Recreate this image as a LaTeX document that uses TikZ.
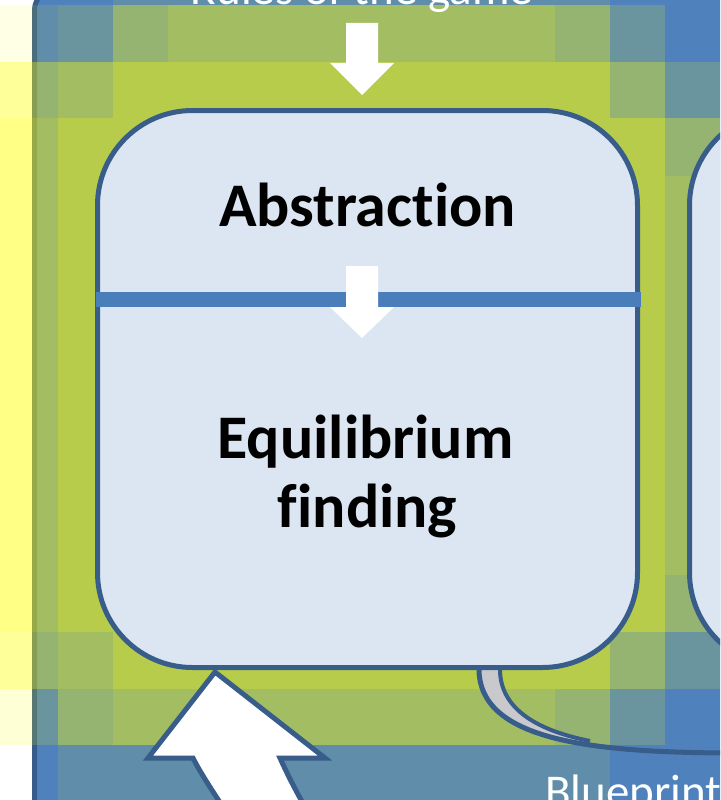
\documentclass[tikz,border=0pt]{standalone}
\usepackage{fontspec}
\setmainfont{Carlito}[Ligatures=NoCommon]
\definecolor{fond}{HTML}{4F81BD}
\definecolor{bord}{HTML}{385D8A}
\definecolor{clair}{HTML}{DCE6F2}
\definecolor{barre}{HTML}{4A7EBB}
\definecolor{halo}{RGB}{255,255,0}
\definecolor{queue}{HTML}{C8C8CD}
\tikzset{
  boite/.style={draw=bord, fill=clair, line width=5pt, rounded corners=95pt,
    minimum width=540pt, minimum height=557pt, inner sep=0pt},
  titre/.style={font=\bfseries\fontsize{62}{69}\selectfont, inner sep=0pt, anchor=base},
  legende/.style={font=\fontsize{47}{56}\selectfont, text=white, inner sep=0pt},
  fleche/.style={fill=white},
}

\begin{document}
\begin{tikzpicture}[x=1pt,y=-1pt]
    % cadre
    \useasboundingbox (0,0) rectangle (720,800);
    \clip (0,0) rectangle (720,800);
    \fill[white] (0,0) rectangle (720,800);
    \draw[bord, fill=fond, line width=5pt, rounded corners=20pt] (34.5,-10) rectangle (780,850);
    % halo jaune (par blocs)
    \def\colx{{0,32,58,113,168,555,610,665,720}}
    \foreach \ya/\yb/\niv in {0/5/{0,0,0,1,1,1,0,0}, 5/62/{1,1,2,3,4,3,2,0},
        62/118/{3,3,4,5,5,5,3,2}, 118/176/{4,4,5,5,5,5,5,3}, 176/575/{4,4,5,5,5,5,5,4},
        575/632/{4,4,5,5,5,5,5,3}, 632/689/{3,3,4,5,5,5,3,2}, 689/745/{2,2,3,4,4,3,2,0},
        745/800/{0,0,1,1,1,1,0,0}}{
      \foreach \l [count=\i from 0] in \niv {
        \pgfmathsetmacro\xa{\colx[\i]}
        \pgfmathsetmacro\xb{\colx[\i+1]}
        \pgfmathsetmacro\op{{0,0.1,0.16,0.4,0.48,0.6}[\l]}
        \fill[halo, opacity=\op] (\xa,\ya) rectangle (\xb,\yb);
      }
    }
    % texte du haut et flèche
    \node[legende, anchor=base] (regles) at (362,5) {Rules of the game};
    \fill[fleche] (346,23) -- (378,23) -- (378,63) -- (394,63) -- (362,95) -- (330,63) -- (346,63) -- cycle;
    % queue grise
    \fill[queue] (479,668) .. controls (478,718) and (530,738) .. (590,745) -- (590,741)
      .. controls (550,733) and (499,715) .. (500,668) -- cycle;
    \draw[bord, line width=5pt] (479,668) .. controls (478,740) and (590,752) .. (725,753);
    \draw[bord, line width=4pt] (500,668) .. controls (499,715) and (550,733) .. (590,741);
    % boîtes
    \node[boite] (algo) at (367.5,389) {};
    \node[boite] (suite) at (959.5,389) {};
    \fill[barre] (96,292) rectangle (641,307);
    \fill[fleche] (346,266) -- (378,266) -- (378,307) -- (394,307) -- (362,338) -- (330,307) -- (346,307) -- cycle;
    % textes
    \node[titre] (abstr) at (367.5,226) {Abstraction};
    \node[titre] (equi) at (365.5,458) {Equilibrium};
    \node[titre] (trouve) at (367.5,527) {finding};
    % grande flèche du bas
    \draw[fleche, draw=bord, line width=5pt] (215,672) -- (325,758) -- (280,758)
      .. controls (290,780) and (298,795) .. (318,830) -- (238,830)
      .. controls (222,805) and (203,778) .. (193,758) -- (148,758) -- cycle;
    \node[legende, anchor=base west] (plan) at (545,807) {Blueprint};
\end{tikzpicture}
\end{document}
